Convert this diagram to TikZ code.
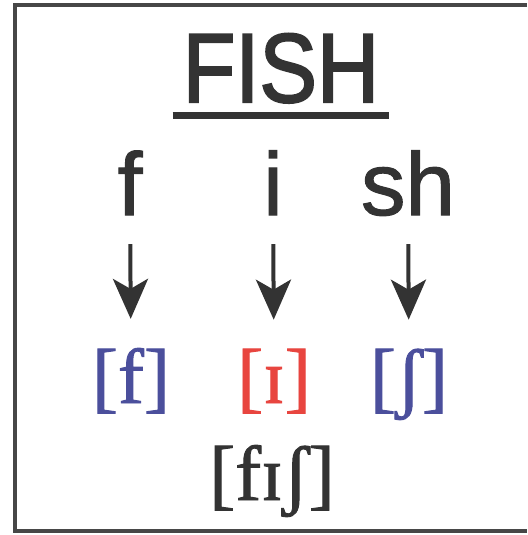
\documentclass[tikz,border=0pt]{standalone}
\usepackage{fontspec}
\setmainfont{Liberation Serif}[FakeBold=1.2]
\setsansfont{Liberation Sans}
\newfontfamily\headfont{Liberation Sans}[FakeBold=2.2]
\newfontfamily\letterfont{Liberation Sans}[FakeBold=1.2]
\usetikzlibrary{arrows.meta}
\usetikzlibrary{positioning}

\definecolor{inkgray}{HTML}{333333}
\definecolor{ipablue}{HTML}{4B4F9C}
\definecolor{ipared}{HTML}{E8453F}

\tikzset{
  letter/.style={anchor=base, inner sep=0pt, text depth=0pt, text=inkgray,
    font=\letterfont\fontsize{89}{89}\selectfont},
  phone/.style={anchor=base, inner sep=0pt, font=\fontsize{78}{78}\selectfont},
  down/.style={-{Stealth[length=40pt,width=35pt,inset=10pt]}, line width=4pt,
    draw=inkgray, shorten <=29pt, shorten >=29pt},
}

\begin{document}
\begin{tikzpicture}[x=1pt,y=-1pt]
            \useasboundingbox (0,0) rectangle (527,535);
            \fill[white] (0,0) rectangle (527,535);
            \draw[line width=4pt, inkgray!90] (527,5) -- (15,5) -- (15,531) -- (527,531);
            \node[letter, inner xsep=10pt, inner ysep=13.5pt, font=\headfont\fontsize{98}{98}\selectfont]
                (title) at (281,102) {\scalebox{0.88}[1]{FISH}};
            \draw[line width=7pt, inkgray] (title.south west) -- (title.south east);
            \node[letter] (f) at (130,215) {f};
            \node[letter] (i) at (273,215) {i};
            \node[letter] (sh) at (408,215) {sh};
            \node[phone, text=ipablue] (pf) at (131,403) {[f]};
            \node[phone, text=ipared] (pi) at (274,403) {[ɪ]};
            \node[phone, text=ipablue] (psh) at (409,403) {[ʃ]};
            \node[phone, text=inkgray] (word) at (272,500) {[fɪʃ]};
            \draw[down] (f) -- (pf);
            \draw[down] (i) -- (pi);
            \draw[down] (sh) -- (psh);
        \end{tikzpicture}
\end{document}
